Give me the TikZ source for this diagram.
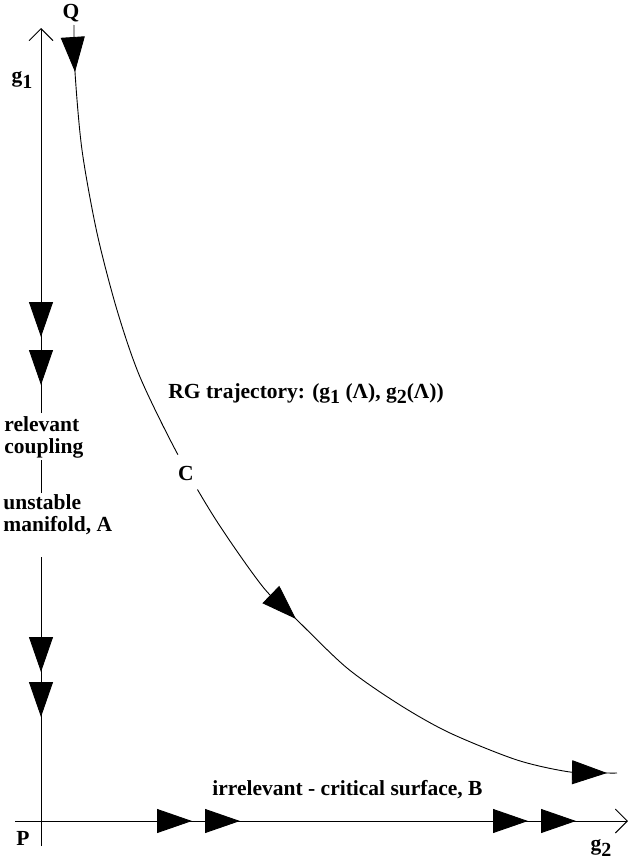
\documentclass[tikz,border=0pt]{standalone}
\usepackage{fontspec}
\setmainfont{Liberation Serif}
\usetikzlibrary{arrows.meta,decorations.markings}
\newcommand{\lowsub}[1]{\raisebox{-0.6ex}{\fontsize{20}{20}\selectfont #1}}

\begin{document}
\begin{tikzpicture}[x=1pt, y=-1pt, line width=0.9pt,
  lbl/.style={font=\fontsize{21.5}{22}\selectfont\bfseries, inner sep=0pt},
  tri/.tip={Triangle[length=35pt,width=24pt]},
  barb/.tip={Straight Barb[length=12pt,width=24pt,line width=0.9pt]}]
\useasboundingbox (0,0) rectangle (628,862);

% ---- axes ----
\coordinate (O) at (41,821);
\coordinate (ytop) at (41,28);
\coordinate (ybot) at (41,846);
\coordinate (xleft) at (15,821);
\coordinate (xright) at (628,821);

\draw (ybot) -- (41,557);
\draw (41,493) -- (41,460);
\draw[-barb] (41,413) -- (ytop);
\draw[-barb] (xleft) -- (xright);

% flow markers on the axes
\path[decoration={markings,
    mark=at position 309pt with {\arrow{tri}},
    mark=at position 357pt with {\arrow{tri}},
    mark=at position 644pt with {\arrow{tri}},
    mark=at position 689pt with {\arrow{tri}}}, decorate] (ytop) -- (ybot);
\path[decoration={markings,
    mark=at position 177pt with {\arrow{tri}},
    mark=at position 225pt with {\arrow{tri}},
    mark=at position 513pt with {\arrow{tri}},
    mark=at position 561pt with {\arrow{tri}}}, decorate] (xleft) -- (xright);

% ---- RG trajectory ----
\draw[postaction=decorate, decoration={markings,
    mark=at position 47pt with {\arrow{tri}},
    mark=at position 650pt with {\arrow{tri}},
    mark=at position -10pt with {\arrow{tri}}}]
  plot[smooth, tension=0.5] coordinates {(74,25) (75,72) (82,150) (97,233)
    (117,310) (140,377) (177,453) (216,520) (263,587) (295,618) (347,668)
    (400,705) (450,733) (517,760) (570,772) (607,773) (617,773)};

% ---- labels ----
\node[lbl] (q) at (71,13) {Q};
\node[lbl] (gone) at (22,80) {g\lowsub{1}};
\node[lbl] (gtwo) at (601,848) {g\lowsub{2}};
\node[lbl] (p) at (23,838) {P};
\node[lbl, circle, fill=white, minimum size=40pt] (c) at (186,473) {C};
\node[lbl, anchor=base west] (traj) at (168,398)
  {RG trajectory: (g\lowsub{1} (Λ), g\lowsub{2}(Λ))};
\node[lbl, anchor=west, align=left] (relev) at (4,437) {relevant\\coupling};
\node[lbl, anchor=west, align=left] (unst) at (3,515) {unstable\\manifold, A};
\node[lbl, anchor=base west] (irrel) at (212,795) {irrelevant - critical surface, B};

\end{tikzpicture}
\end{document}
